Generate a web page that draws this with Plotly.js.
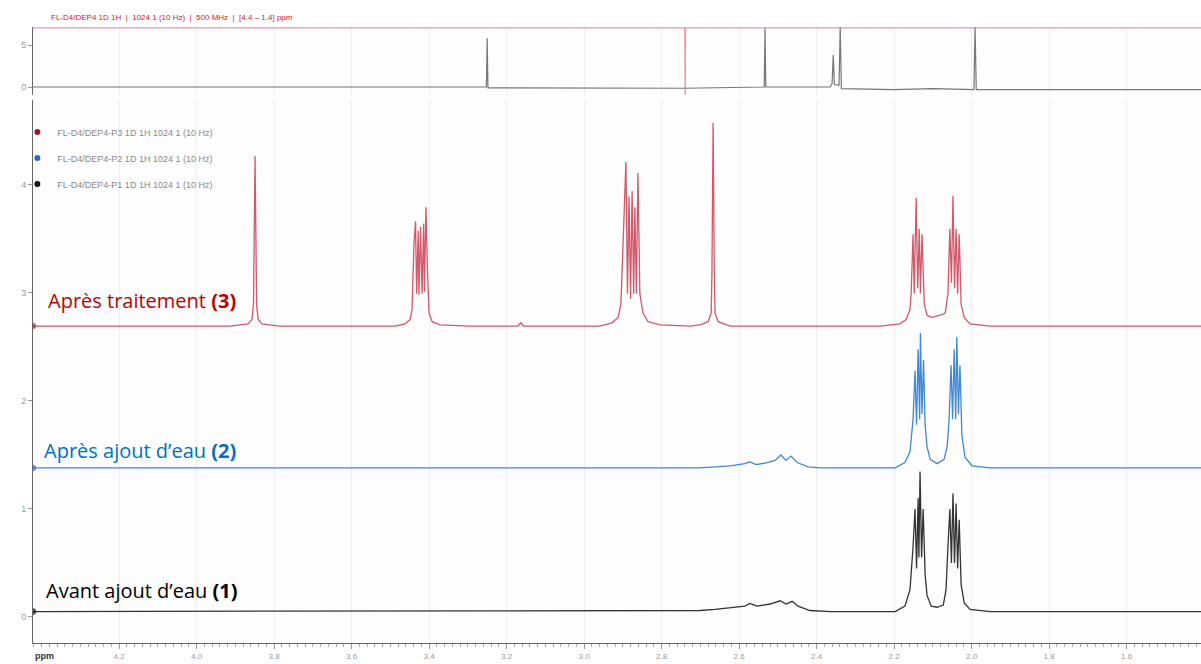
<!DOCTYPE html>
<html>
<head>
<meta charset="utf-8">
<script src="https://cdn.plot.ly/plotly-3.0.1.min.js"></script>
<style>html,body{margin:0;padding:0;background:#fff;}#chart{width:1201px;height:664px;}</style>
</head>
<body>
<div id="chart"></div>
<script>
// ---- data (ppm, relative intensity) ----
const seriesNames = ["FL-D4/DEP4-P3 1D 1H 1024 1 (10 Hz)", "FL-D4/DEP4-P2 1D 1H 1024 1 (10 Hz)", "FL-D4/DEP4-P1 1D 1H 1024 1 (10 Hz)"];
const seriesLabels = ["Après traitement <b>(3)</b>", "Après ajout d’eau <b>(2)</b>", "Avant ajout d’eau <b>(1)</b>"];
const offsets = [2.694, 1.380, 0.05];

const redX = [4.422,3.914,3.867,3.857,3.853,3.849,3.845,3.841,3.831,3.785,
  3.488,3.462,3.449,3.444,3.439,3.435,3.432,3.428,3.426,3.422,3.418,3.414,3.412,3.408,3.404,3.400,3.392,3.372,3.294,
  3.170,3.163,3.156,
  2.959,2.928,2.912,2.905,2.897,2.892,2.888,2.884,2.880,2.876,2.872,2.869,2.865,2.861,2.856,2.848,2.835,2.804,2.727,
  2.701,2.680,2.672,2.670,2.667,2.664,2.662,2.654,2.623,
  2.236,2.185,2.169,2.159,2.156,2.151,2.148,2.143,2.139,2.135,2.132,2.128,2.122,2.115,2.102,2.081,2.068,
  2.061,2.056,2.052,2.048,2.044,2.040,2.036,2.032,2.027,2.019,2.004,1.952,1.408];
const redY = [0,0,0.02,0.06,0.2,1.574,0.2,0.06,0.02,0,
  0,0.02,0.06,0.15,0.75,0.97,0.3,0.88,0.29,0.92,0.3,0.95,0.32,1.10,0.5,0.12,0.04,0.01,0,
  0,0.03,0,
  0,0.03,0.08,0.2,1.0,1.519,0.3,1.2,0.25,1.25,0.3,1.1,0.3,1.417,0.3,0.12,0.04,0.01,0,
  0.01,0.04,0.12,0.5,1.88,0.5,0.12,0.04,0,
  0,0.02,0.06,0.15,0.3,0.85,0.3,1.185,0.35,0.9,0.3,0.85,0.2,0.1,0.08,0.1,0.12,
  0.3,0.9,0.4,1.204,0.35,0.9,0.3,0.85,0.2,0.08,0.02,0,0];

const blueX = [4.422,2.701,2.623,2.585,2.572,2.556,2.533,2.507,2.492,2.479,2.466,2.450,2.422,2.391,
  2.197,2.172,2.159,2.151,2.146,2.142,2.138,2.134,2.132,2.128,2.124,2.120,2.115,2.107,2.089,2.071,
  2.063,2.058,2.053,2.049,2.045,2.041,2.038,2.034,2.030,2.025,2.017,1.999,1.952,1.408];
const blueY = [0,0,0.02,0.04,0.056,0.03,0.045,0.07,0.12,0.07,0.11,0.05,0.01,0,
  0,0.05,0.15,0.45,0.9,0.4,1.1,0.45,1.25,0.5,1.0,0.4,0.2,0.08,0.04,0.08,
  0.2,0.45,0.95,0.45,1.1,0.45,1.213,0.5,0.95,0.3,0.1,0.02,0,0];

const blackX = [4.422,2.701,2.662,2.610,2.585,2.572,2.554,2.520,2.494,2.479,2.463,2.448,2.417,2.365,
  2.197,2.172,2.159,2.151,2.146,2.142,2.138,2.136,2.133,2.129,2.125,2.120,2.115,2.104,2.089,2.073,
  2.066,2.061,2.056,2.052,2.048,2.044,2.040,2.036,2.032,2.027,2.019,2.004,1.952,1.408];
const blackY = [0,0.01,0.02,0.045,0.05,0.075,0.05,0.07,0.1,0.07,0.095,0.05,0.01,0,
  0,0.05,0.2,0.6,0.95,0.4,1.05,0.5,1.296,0.5,0.95,0.35,0.15,0.05,0.04,0.06,
  0.2,0.6,0.95,0.45,1.093,0.45,1.0,0.4,0.85,0.25,0.08,0.02,0,0];

// top reference strip
const stripGrayX = [4.422,3.252,3.250,3.248,2.741,2.535,2.533,2.531,2.365,2.360,2.357,2.354,2.342,2.339,2.336,2.300,2.200,2.100,1.994,1.991,1.988,1.408];
const stripGrayY = [0,0,5.8,-0.1,-0.15,0,7.0,0,0,0.4,3.8,0.3,0.2,7.1,-0.2,-0.25,-0.3,-0.2,-0.3,7.1,-0.3,-0.3];
const stripRedX = [4.422,2.740,2.739,2.738,1.408];
const stripRedY = [7.05,7.05,-1.2,7.05,7.05];

const xTickVals = [4.2,4.0,3.8,3.6,3.4,3.2,3.0,2.8,2.6,2.4,2.2,2.0,1.8,1.6];
const xTickText = ["4.2","4.0","3.8","3.6","3.4","3.2","3.0","2.8","2.6","2.4","2.2","2.0","1.8","1.6"];
const yTickVals = [0,1,2,3,4];
const yTickText = ["0","1","2","3","4"];
const y2TickVals = [0,5];
const y2TickText = ["0","5"];

const topTitle = "FL-D4/DEP4 1D 1H  |  1024 1 (10 Hz)  |  500 MHz  |  [4.4 – 1.4] ppm";

// ---- build ----
const lineColors = ["#d2586a", "#3f88d6", "#333333"];
const markColors = ["#a01828", "#1f6fc8", "#111111"];
const labelColors = ["#c00000", "#0070c0", "#000000"];
const xs = [redX, blueX, blackX];
const ys = [redY, blueY, blackY];

const traces = [];
for (let i = 0; i < 3; i++) {
  const sizes = xs[i].map((v, k) => k === 0 ? 6 : 0);
  traces.push({
    x: xs[i], y: ys[i].map(v => v + offsets[i]),
    type: "scatter", mode: "lines+markers",
    line: {color: lineColors[i], width: 1.3},
    marker: {size: sizes, color: markColors[i]},
    showlegend: false, hoverinfo: "skip"
  });
}
for (let i = 0; i < 3; i++) {
  traces.push({
    x: [null], y: [null], type: "scatter", mode: "markers",
    marker: {size: 6, color: markColors[i]},
    name: seriesNames[i], legendgroup: "g" + i, showlegend: true
  });
}
traces.push({x: stripRedX, y: stripRedY, yaxis: "y2", type: "scatter", mode: "lines",
  line: {color: "#e79aa5", width: 1.3}, showlegend: false, hoverinfo: "skip"});
traces.push({x: stripGrayX, y: stripGrayY, yaxis: "y2", type: "scatter", mode: "lines",
  line: {color: "#777777", width: 1.2}, showlegend: false, hoverinfo: "skip"});

const annotations = [];
const labelY = [2.935, 1.537, 0.241];
const labelX = [0.011, 0.008, 0.009];
for (let i = 0; i < 3; i++) {
  annotations.push({text: seriesLabels[i], xref: "paper", yref: "y", x: labelX[i], y: labelY[i],
    xanchor: "left", yanchor: "middle", showarrow: false,
    font: {family: "Open Sans, Noto Sans, sans-serif", size: 20, color: labelColors[i]}});
}
annotations.push({text: topTitle, xref: "paper", yref: "paper", x: 0.014, y: 1.0, yshift: 10,
  xanchor: "left", yanchor: "middle", showarrow: false,
  font: {family: "Liberation Sans, sans-serif", size: 8, color: "#d42020"}});
annotations.push({text: "<b>ppm</b>", xref: "paper", yref: "paper", x: 0.0, y: 0, yshift: -13,
  xanchor: "left", yanchor: "middle", showarrow: false,
  font: {family: "Liberation Sans, sans-serif", size: 9, color: "#333"}});

const layout = {
  width: 1201, height: 664,
  margin: {l: 33, r: 0, t: 27, b: 21},
  paper_bgcolor: "#ffffff", plot_bgcolor: "#fdfdfd",
  showlegend: true,
  legend: {x: -0.0134, y: 0.853, xanchor: "left", yanchor: "top", bgcolor: "rgba(0,0,0,0)",
    font: {family: "Liberation Sans, sans-serif", size: 9, color: "#8a8a8a"},
    tracegroupgap: 7, itemwidth: 30},
  xaxis: {range: [4.422, 1.408], tickvals: xTickVals, ticktext: xTickText,
    showgrid: true, gridcolor: "#efefef", zeroline: false,
    showline: true, linecolor: "#666", linewidth: 1,
    ticks: "outside", ticklen: 5, tickcolor: "#999",
    minor: {dtick: 0.02, ticks: "outside", ticklen: 3, tickcolor: "#aaa", showgrid: false},
    tickfont: {family: "Liberation Sans, sans-serif", size: 8, color: "#999"}},
  yaxis: {domain: [0, 0.8815], range: [-0.241, 4.787], tickvals: yTickVals, ticktext: yTickText,
    showgrid: false, zeroline: false, showline: true, linecolor: "#666", linewidth: 1,
    ticks: "outside", ticklen: 4, tickcolor: "#999",
    tickfont: {family: "Liberation Sans, sans-serif", size: 9, color: "#999"}},
  yaxis2: {domain: [0.8896, 1], range: [-0.952, 7.143], anchor: "x", tickvals: y2TickVals, ticktext: y2TickText,
    showgrid: false, zeroline: false, showline: true, linecolor: "#666", linewidth: 1,
    ticks: "outside", ticklen: 4, tickcolor: "#999",
    tickfont: {family: "Liberation Sans, sans-serif", size: 9, color: "#999"}},
  annotations: annotations
};

Plotly.newPlot("chart", traces, layout, {displayModeBar: false, staticPlot: true});
</script>
</body>
</html>
